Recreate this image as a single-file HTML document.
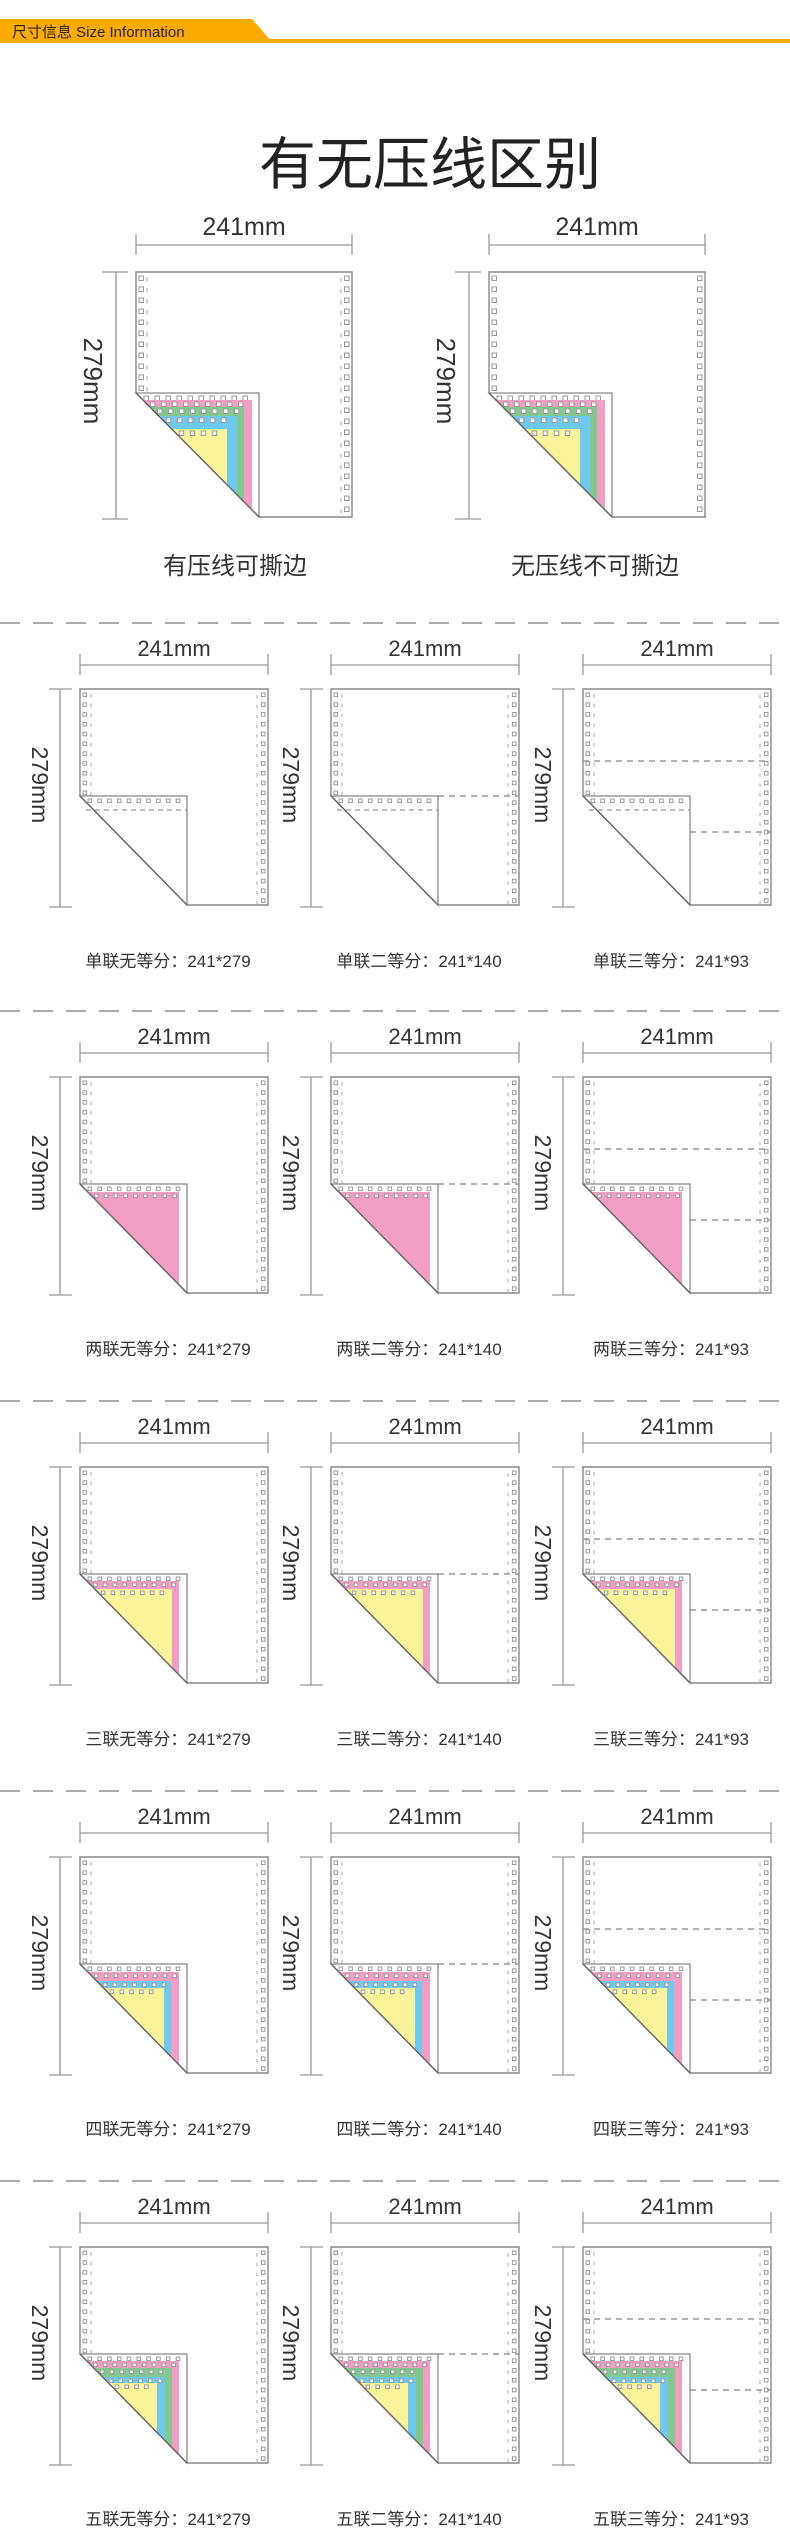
<!DOCTYPE html>
<html><head><meta charset="utf-8"><style>
html,body{margin:0;padding:0;background:#fff;}
svg{display:block;}
text{font-family:"Liberation Sans","Noto Sans CJK SC",sans-serif;}
</style></head><body>
<svg id="s" width="790" height="2540" viewBox="0 0 790 2540" xmlns="http://www.w3.org/2000/svg">
<rect width="790" height="2540" fill="#fff"/>
<polygon points="0,19 252,19 273,43 0,43" fill="#fdab00"/>
<rect x="0" y="39" width="790" height="4" fill="#fdab00"/>
<text x="12" y="37" font-size="15" fill="#222">尺寸信息 Size Information</text>
<text x="430" y="184" font-size="57" fill="#222" text-anchor="middle">有无压线区别</text>
<g id="g"></g>
<g font-size="25" fill="#333" text-anchor="middle">
<text x="244" y="235">241mm</text><text x="597" y="235">241mm</text>
<text x="93" y="381" transform="rotate(90 93 381)" dy="9" font-size="26">279mm</text>
<text x="446" y="381" transform="rotate(90 446 381)" dy="9" font-size="26">279mm</text>
<text x="235" y="574" font-size="24">有压线可撕边</text>
<text x="595" y="574" font-size="24">无压线不可撕边</text>
</g>
<g id="t" fill="#333" text-anchor="middle"></g>
</svg>
<script>
var NS="http://www.w3.org/2000/svg",G=document.getElementById('g'),T=document.getElementById('t');
function el(n,a,p){var e=document.createElementNS(NS,n);for(var k in a)e.setAttribute(k,a[k]);(p||G).appendChild(e);return e;}
function line(x1,y1,x2,y2,c,w,da){var a={x1:x1,y1:y1,x2:x2,y2:y2,stroke:c||'#888','stroke-width':w||1.3};if(da)a['stroke-dasharray']=da;el('line',a);}
function hole(x,y,s){el('rect',{x:x,y:y,width:s,height:s,fill:'#fff',stroke:'#999','stroke-width':1});}
var COL={p:'#f29dc4',g:'#83c98f',b:'#6ec9f0',y:'#fbf39a'};
function paper(o){
 var x0=o.x,y0=o.y,w=o.w,h=o.h,F=o.F,fw=o.fw,B=y0+h,sp=o.sp,hs=o.hs;
 // dims
 line(x0,o.dy,x0+w,o.dy,'#999',1.3);line(x0,o.dy-11,x0,o.dy+10,'#999',1.3);line(x0+w,o.dy-11,x0+w,o.dy+10,'#999',1.3);
 line(x0-20,y0,x0-20,B+2,'#999',1.3);line(x0-o.tk,y0,x0-8,y0,'#999',1.3);line(x0-o.tk,B+2,x0-8,B+2,'#999',1.3);
 // outline
 el('polyline',{points:[x0,F,x0,y0,x0+w,y0,x0+w,B,x0+fw,B].join(','),fill:'none',stroke:'#888','stroke-width':1.4});
 // holes left
 for(var y=y0+4;y<F-4;y+=sp){hole(x0+3,y,hs);if(o.perf)line(x0+11,y+1,x0+11,y+hs+1,'#aaa',1);}
 for(var y=y0+4;y<B-4;y+=sp){hole(x0+w-3-hs,y,hs);if(o.perf)line(x0+w-11,y+2,x0+w-11,y+hs+2,'#aaa',1);}
 // dividers
 (o.div||[]).forEach(function(d){line(d[0],d[1],d[2],d[1],'#999',1.5,'6,5');});
 // fold piece
 el('polygon',{points:[x0,F,x0+fw,F,x0+fw,B].join(','),fill:'#fff',stroke:'#888','stroke-width':1.3});
 function xd(y){return x0+(y-F)*fw/(B-F);} function yd(x){return F+(x-x0)*(B-F)/fw;}
 for(var x=x0+8;x<x0+fw-6;x+=sp){hole(x,F+3,hs);}
 if(o.single)line(x0+6,F+14,x0+fw,F+14,'#999',1.3,'5,4');
 (o.layers||[]).forEach(function(L){
  var t=F+L[1],r=x0+fw-L[2];
  el('polygon',{points:[xd(t),t,r,t,r,yd(r)].join(','),fill:COL[L[0]]});
  for(var x=xd(t)+hs+3;x<r-hs-2;x+=sp){hole(x,t+2,hs);}
 });
 line(x0,F,x0+fw,B,'#666',1.4);
}
// top section
var TL=[['p',7,7],['g',14,15],['b',23,22],['y',36,32]];
paper({x:136,y:272,w:216,h:245,F:393,fw:123,sp:11,hs:4.5,dy:245,tk:34,perf:1,layers:TL});
paper({x:489,y:272,w:216,h:245,F:393,fw:123,sp:11,hs:4.5,dy:245,tk:34,perf:0,layers:TL});
// sections
var ds=[623,1011,1401,1791,2181];
var LAY=[[],[['p',8,8]],[['p',7,8],['y',15,15]],[['p',8,8],['b',17,16],['y',24,23]],[['p',7,8],['g',14,15],['b',23,22],['y',29,30]]];
var NM=['单联','两联','三联','四联','五联'],SUF=['无等分：241*279','二等分：241*140','三等分：241*93'];
var xs=[80,331,583];
ds.forEach(function(d,i){
 line(0,d,790,d,'#aaa',2,'20,13');
 xs.forEach(function(x0,j){
  var y0=d+66,h=216,F=d+173,fw=107,div=[];
  if(j==1)div=[[x0+fw,F,x0+188]];
  if(j==2)div=[[x0,y0+72,x0+188],[x0+fw,y0+143,x0+188]];
  paper({x:x0,y:y0,w:188,h:h,F:F,fw:fw,sp:9.8,hs:3.6,dy:d+42,tk:31,perf:1,layers:LAY[i],single:i==0,div:div});
  var t=el('text',{x:x0+94,y:d+33,'font-size':22},T);t.textContent='241mm';
  var cx=x0-40,cy=d+162;t=el('text',{x:cx,y:cy,dy:8,'font-size':23,transform:'rotate(90 '+cx+' '+cy+')'},T);t.textContent='279mm';
  t=el('text',{x:x0+88,y:d+344,'font-size':17},T);t.textContent=NM[i]+SUF[j];
 });
});
</script>
</body></html>
